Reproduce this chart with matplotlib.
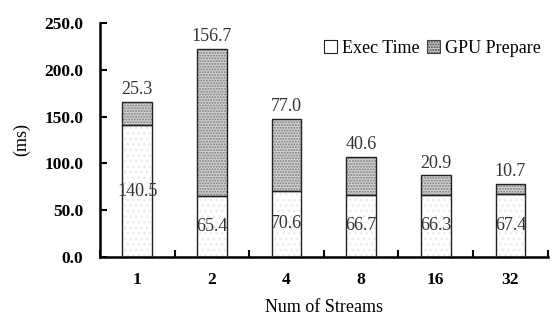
import matplotlib
matplotlib.use("Agg")
import matplotlib.pyplot as plt
from matplotlib.patches import Patch
import numpy as np

streams = ["1", "2", "4", "8", "16", "32"]
exec_time = [140.5, 65.4, 70.6, 66.7, 66.3, 67.4]
gpu_prepare = [25.3, 156.7, 77.0, 40.6, 20.9, 10.7]
y_ticks = [0, 50, 100, 150, 200, 250]

plt.rcParams["font.family"] = ["Liberation Serif", "DejaVu Serif"]
plt.rcParams["hatch.linewidth"] = 1.0

fig = plt.figure(figsize=(5.55, 3.2), dpi=100)
ax = fig.add_axes([0.180, 0.197, 0.807, 0.731])

x = np.arange(len(streams))
w = 0.4
exec_arr = np.array(exec_time)
gpu_arr = np.array(gpu_prepare)

# stippled fills (drawn without outline so hatch colour stays light)
ax.bar(x, exec_arr, w, color="white", edgecolor="#ebebeb", hatch="...", linewidth=0, zorder=2)
ax.bar(x, gpu_arr, w, bottom=exec_arr, color="#d4d4d4", edgecolor="#7a7a7a", hatch="......", linewidth=0, zorder=2)
# dark outlines
ax.bar(x, exec_arr, w, fill=False, edgecolor="#222222", linewidth=1.0, zorder=3)
ax.bar(x, gpu_arr, w, bottom=exec_arr, fill=False, edgecolor="#222222", linewidth=1.0, zorder=3)

for xi, e, g in zip(x, exec_arr, gpu_arr):
    ax.text(xi, e / 2, f"{e:.1f}", ha="center", va="center", fontsize=13, color="#333333", zorder=4)
    ax.text(xi, e + g + 4, f"{g:.1f}", ha="center", va="bottom", fontsize=13, color="#333333", zorder=4)

ax.set_xlim(-0.5, len(streams) - 0.5)
ax.set_ylim(0, 250)
ax.set_yticks(y_ticks)
ax.set_yticklabels([f"{v:.1f}" for v in y_ticks], fontweight="bold", fontsize=12.5)
ax.set_xticks(x)
ax.set_xticklabels(streams, fontweight="bold", fontsize=12.5)
ax.set_xticks(np.arange(len(streams) + 1) - 0.5, minor=True)
ax.tick_params(axis="x", which="major", length=0, pad=11)
ax.tick_params(axis="x", which="minor", direction="in", length=5, width=1.5)
ax.tick_params(axis="y", direction="in", length=5, width=1.5, pad=12)

for s in ["top", "right"]:
    ax.spines[s].set_visible(False)
for s in ["left", "bottom"]:
    ax.spines[s].set_linewidth(1.8)

ax.set_ylabel("(ms)", fontsize=13, labelpad=10)
ax.set_xlabel("Num of Streams", fontsize=13, labelpad=8)

handles = [
    Patch(facecolor="white", edgecolor="#222222", linewidth=0.8, label="Exec Time"),
    Patch(facecolor="#c8c8c8", edgecolor="#444444", hatch="......", linewidth=0.8, label="GPU Prepare"),
]
ax.legend(handles=handles, loc="upper right", bbox_to_anchor=(1.0, 0.96), frameon=False,
          fontsize=13, ncol=2, handlelength=0.75, handleheight=0.75, handletextpad=0.25,
          columnspacing=0.4, borderaxespad=0)

fig.savefig("out.png", dpi=100, facecolor="white")
